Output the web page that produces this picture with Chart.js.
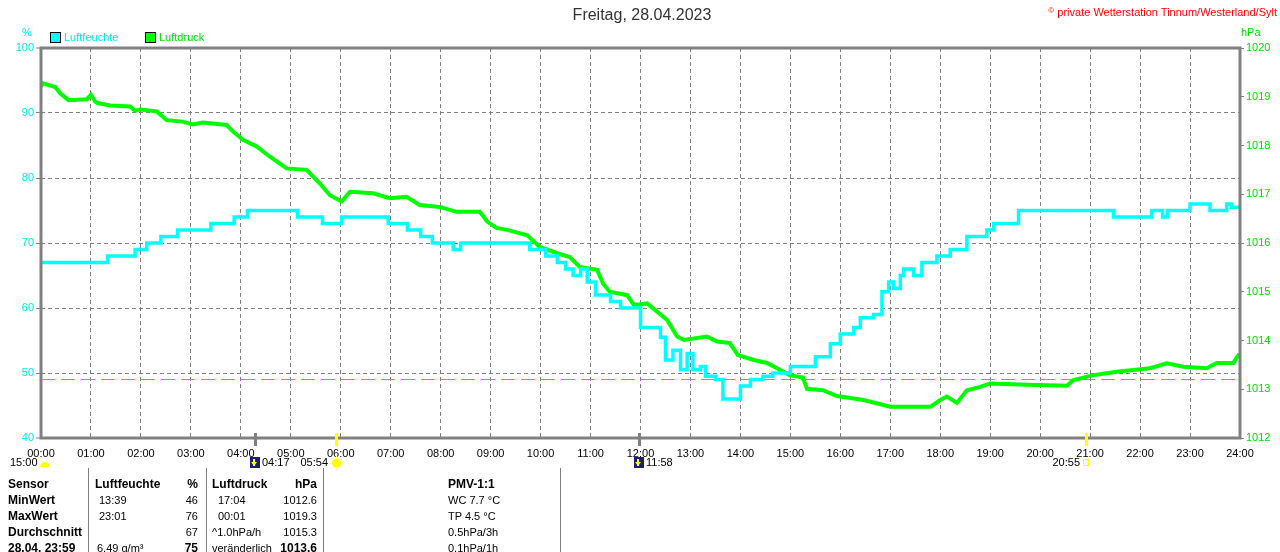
<!DOCTYPE html>
<html>
<head>
<meta charset="utf-8">
<script src="https://cdn.jsdelivr.net/npm/chart.js@4.4.1/dist/chart.umd.min.js"></script>
<style>
    body { margin: 0; background: #fff; font-family: "Liberation Sans", Arial, sans-serif; }
    #wrap { position: relative; width: 1280px; height: 552px; overflow: hidden; }
    canvas { position: absolute; left: 0; top: 0; }
    .t { position: absolute; white-space: nowrap; font-size: 11px; line-height: 14px; color: #000; }
    .b { font-weight: bold; font-size: 12px; }
    .r { text-align: right; }
    .sep { position: absolute; top: 468px; width: 1px; height: 84px; background: #808080; }
    .box { position: absolute; width: 9px; height: 9px; border: 1px solid #000; }
</style>
</head>
<body>
<div id="wrap">
    <canvas id="myChart" width="1280" height="552"></canvas>

    <!-- header texts -->
    <div class="t" style="left:0;width:1284px;top:6px;text-align:center;font-size:16px;line-height:18px;color:#333;">Freitag, 28.04.2023</div>
    <div class="t" style="right:3px;top:4px;color:#f00;"><span style="font-size:8px;vertical-align:3px;">©</span> private Wetterstation Tinnum/Westerland/Sylt</div>
    <div class="t" style="left:22px;top:25px;color:#00e8e8;">%</div>
    <div class="t" style="left:1241px;top:25px;color:#00e000;">hPa</div>

    <!-- legend -->
    <div class="box" style="left:50px;top:32px;background:#00ffff;"></div>
    <div class="t" style="left:64px;top:30px;color:#00e8e8;">Luftfeuchte</div>
    <div class="box" style="left:145px;top:32px;background:#00ff00;"></div>
    <div class="t" style="left:159px;top:30px;color:#00e000;">Luftdruck</div>

    <!-- table -->
    <div class="sep" style="left:88px"></div>
    <div class="sep" style="left:206px"></div>
    <div class="sep" style="left:323px"></div>
    <div class="sep" style="left:560px"></div>

    <div class="t b" style="left:8px;top:477px;">Sensor</div>
    <div class="t b" style="left:95px;top:477px;">Luftfeuchte</div>
    <div class="t b r" style="right:1082px;top:477px;">%</div>
    <div class="t b" style="left:212px;top:477px;">Luftdruck</div>
    <div class="t b r" style="right:963px;top:477px;">hPa</div>
    <div class="t b" style="left:448px;top:477px;">PMV-1:1</div>

    <div class="t b" style="left:8px;top:493px;">MinWert</div>
    <div class="t" style="left:99px;top:493px;">13:39</div>
    <div class="t r" style="right:1082px;top:493px;">46</div>
    <div class="t" style="left:218px;top:493px;">17:04</div>
    <div class="t r" style="right:963px;top:493px;">1012.6</div>
    <div class="t" style="left:448px;top:493px;">WC 7.7 °C</div>

    <div class="t b" style="left:8px;top:509px;">MaxWert</div>
    <div class="t" style="left:99px;top:509px;">23:01</div>
    <div class="t r" style="right:1082px;top:509px;">76</div>
    <div class="t" style="left:218px;top:509px;">00:01</div>
    <div class="t r" style="right:963px;top:509px;">1019.3</div>
    <div class="t" style="left:448px;top:509px;">TP 4.5 °C</div>

    <div class="t b" style="left:8px;top:525px;">Durchschnitt</div>
    <div class="t r" style="right:1082px;top:525px;">67</div>
    <div class="t" style="left:212px;top:525px;">^1.0hPa/h</div>
    <div class="t r" style="right:963px;top:525px;">1015.3</div>
    <div class="t" style="left:448px;top:525px;">0.5hPa/3h</div>

    <div class="t b" style="left:8px;top:541px;">28.04. 23:59</div>
    <div class="t" style="left:97px;top:541px;">6.49 g/m³</div>
    <div class="t b r" style="right:1082px;top:541px;">75</div>
    <div class="t" style="left:212px;top:541px;">veränderlich</div>
    <div class="t b r" style="right:963px;top:541px;">1013.6</div>
    <div class="t" style="left:448px;top:541px;">0.1hPa/1h</div>
</div>

<script>
// humidity readings (time of change, %)
const humTimes = ['00:00', '01:20', '01:53', '02:07', '02:24', '02:44', '03:24', '03:52', '04:08', '05:08',
    '05:38', '06:01', '06:57', '07:20', '07:36', '07:50', '08:15', '08:24', '09:47', '10:06',
    '10:20', '10:30', '10:39', '10:48', '10:56', '11:06', '11:24', '11:36', '12:00', '12:24',
    '12:30', '12:39', '12:48', '12:56', '13:03', '13:12', '13:18', '13:30', '13:39', '13:51',
    '14:00', '14:12', '14:27', '14:39', '15:00', '15:30', '15:48', '16:00', '16:16', '16:24',
    '16:40', '16:50', '16:58', '17:04', '17:12', '17:16', '17:28', '17:38', '17:56', '18:12',
    '18:32', '18:56', '19:04', '19:34', '21:28', '22:14', '22:27', '22:33', '23:00', '23:24',
    '23:44', '23:50', '24:00'];
const humValues = [67, 68, 69, 70, 71, 72, 73, 74, 75, 74,
    73, 74, 73, 72, 71, 70, 69, 70, 69, 68,
    67, 66, 65, 66, 64, 62, 61, 60, 57, 55.5,
    52, 53.5, 50.5, 53, 50.5, 51, 49.5, 49, 46, 46,
    48, 49, 49.5, 50, 51, 52.5, 54.5, 56, 57, 58.5,
    59, 62.5, 64, 63, 65, 66, 65, 67, 68, 69,
    71, 72, 73, 75, 74, 75, 74, 75, 76, 75,
    76, 75.5, 75.5];

// air pressure readings (time, hPa)
const presTimes = ['00:00', '00:02', '00:17', '00:23', '00:33', '00:55', '01:00', '01:05', '01:08', '01:23',
    '01:47', '01:53', '01:59', '02:19', '02:31', '02:50', '03:02', '03:14', '03:43', '03:51',
    '04:03', '04:19', '04:35', '04:55', '05:19', '05:35', '05:47', '06:01', '06:11', '06:39',
    '06:59', '07:19', '07:35', '07:59', '08:19', '08:47', '08:56', '09:07', '09:20', '09:44',
    '09:59', '10:20', '10:35', '10:47', '11:08', '11:15', '11:23', '11:44', '11:52', '12:08',
    '12:20', '12:32', '12:44', '12:52', '13:20', '13:32', '13:47', '13:57', '14:16', '14:32',
    '14:44', '14:59', '15:15', '15:20', '15:39', '15:56', '16:28', '17:00', '17:48', '18:00',
    '18:08', '18:20', '18:32', '18:48', '19:00', '19:44', '20:32', '20:40', '21:04', '21:32',
    '22:12', '22:32', '22:52', '23:20', '23:32', '23:52', '23:58', '24:00'];
const presValues = [1019.2, 1019.28, 1019.2, 1019.07, 1018.93, 1018.95, 1019.04, 1018.9, 1018.87, 1018.82,
    1018.8, 1018.71, 1018.74, 1018.7, 1018.52, 1018.49, 1018.43, 1018.47, 1018.42, 1018.28,
    1018.11, 1017.98, 1017.77, 1017.53, 1017.5, 1017.22, 1016.98, 1016.85, 1017.05, 1017.02,
    1016.92, 1016.95, 1016.78, 1016.74, 1016.64, 1016.64, 1016.44, 1016.31, 1016.27, 1016.16,
    1015.92, 1015.79, 1015.71, 1015.51, 1015.45, 1015.17, 1015.0, 1014.93, 1014.73, 1014.76,
    1014.59, 1014.42, 1014.08, 1014.01, 1014.08, 1013.98, 1013.95, 1013.7, 1013.6, 1013.54,
    1013.43, 1013.29, 1013.24, 1013.01, 1012.98, 1012.86, 1012.78, 1012.64, 1012.64, 1012.78,
    1012.85, 1012.72, 1012.98, 1013.05, 1013.12, 1013.09, 1013.07, 1013.19, 1013.29, 1013.36,
    1013.43, 1013.53, 1013.46, 1013.43, 1013.54, 1013.54, 1013.7, 1013.7];

const refPressure = 1013.2;

// sun and moon events shown under the time axis
const eventTimes = ['04:17', '05:54', '11:58', '20:55'];
const eventKinds = ['moonrise', 'sunrise', 'moonset', 'sunset'];

// "HH:MM" -> hours as a number
function toHours(s) {
    const parts = s.split(':').map(Number);
    return parts[0] + parts[1] / 60;
}

const fontFamily = '"Liberation Sans", Arial, sans-serif';

// frame round the plot plus the markers and icons below the axis
const extras = {
    id: 'extras',
    afterDraw(chart) {
        const ctx = chart.ctx;
        const a = chart.chartArea;
        const x = chart.scales.x;
        ctx.save();
        ctx.strokeStyle = '#808080';
        ctx.lineWidth = 3;
        ctx.strokeRect(a.left, a.top, a.right - a.left, a.bottom - a.top);

        ctx.font = '11px ' + fontFamily;
        ctx.textBaseline = 'middle';
        ctx.fillStyle = '#000';
        ctx.textAlign = 'left';
        ctx.fillText('15:00', 10, 463);
        ctx.fillStyle = '#ffff00';
        ctx.beginPath();
        ctx.arc(45, 467, 5, Math.PI, 0);
        ctx.fill();

        eventTimes.forEach((t, i) => {
            const px = Math.round(x.getPixelForValue(toHours(t)));
            const kind = eventKinds[i];
            const isMoon = kind.startsWith('moon');
            ctx.fillStyle = isMoon ? '#808080' : '#ffff00';
            ctx.fillRect(px - 1, a.bottom - 5, 3, 13);

            ctx.fillStyle = '#000';
            if (isMoon) {
                ctx.fillStyle = '#1c1c7c';
                ctx.fillRect(px - 5, 457, 10, 11);
                ctx.fillStyle = '#ffff00';
                ctx.fillRect(px - 2, 459, 2, 7);
                ctx.beginPath();
                ctx.moveTo(px - 4, 462); ctx.lineTo(px + 2, 462); ctx.lineTo(px - 1, 466);
                ctx.fill();
                ctx.fillStyle = '#000';
                ctx.textAlign = 'left';
                ctx.fillText(t, px + 7, 463);
            } else if (kind === 'sunrise') {
                ctx.fillStyle = '#ffff00';
                ctx.beginPath();
                ctx.arc(px + 0.5, 463, 4.5, 0, Math.PI * 2);
                ctx.fill();
                ctx.strokeStyle = '#ffff60';
                ctx.lineWidth = 1;
                for (let k = 0; k < 8; k++) {
                    const ang = k * Math.PI / 4;
                    ctx.beginPath();
                    ctx.moveTo(px + 0.5 + Math.cos(ang) * 5, 463 + Math.sin(ang) * 5);
                    ctx.lineTo(px + 0.5 + Math.cos(ang) * 7, 463 + Math.sin(ang) * 7);
                    ctx.stroke();
                }
                ctx.fillStyle = '#000';
                ctx.textAlign = 'right';
                ctx.fillText(t, px - 8, 463);
            } else {
                ctx.strokeStyle = '#ffff00';
                ctx.lineWidth = 1;
                ctx.strokeRect(px - 2.5, 459.5, 5, 6);
                ctx.fillStyle = '#000';
                ctx.textAlign = 'right';
                ctx.fillText(t, px - 6, 463);
            }
        });
        ctx.restore();
    }
};

const edgeWidth = (ctx, lo, hi) => (ctx.tick && (ctx.tick.value === lo || ctx.tick.value === hi)) ? 0 : 1;

const chartCtx = document.getElementById('myChart').getContext('2d');
new Chart(chartCtx, {
    type: 'line',
    data: {
        datasets: [{
            label: 'Luftfeuchte',
            data: humTimes.map((t, i) => ({ x: toHours(t), y: humValues[i] })),
            yAxisID: 'y',
            borderColor: '#00ffff',
            borderWidth: 3.5,
            pointRadius: 0,
            stepped: true,
            fill: false
        }, {
            label: 'Luftdruck',
            data: presTimes.map((t, i) => ({ x: toHours(t), y: presValues[i] })),
            yAxisID: 'y2',
            borderColor: '#00ff00',
            borderWidth: 4,
            pointRadius: 0,
            fill: false
        }, {
            label: 'Normaldruck',
            data: [{ x: 0, y: refPressure }, { x: 24, y: refPressure }],
            yAxisID: 'y2',
            borderColor: '#33dd33',
            borderWidth: 1,
            borderDash: [14, 6],
            pointRadius: 0,
            fill: false
        }]
    },
    options: {
        responsive: false,
        animation: false,
        layout: { padding: { top: 48 } },
        plugins: {
            legend: { display: false },
            tooltip: { enabled: false }
        },
        scales: {
            x: {
                type: 'linear',
                min: 0,
                max: 24,
                ticks: {
                    stepSize: 1,
                    autoSkip: false,
                    maxRotation: 0,
                    padding: 9,
                    color: '#000',
                    font: { size: 11, family: fontFamily },
                    callback: v => String(v).padStart(2, '0') + ':00'
                },
                grid: {
                    color: '#808080',
                    drawTicks: false,
                    lineWidth: ctx => edgeWidth(ctx, 0, 24)
                },
                border: { display: false, dash: [4, 3] },
                afterFit: s => { s.height = 114; }
            },
            y: {
                position: 'left',
                min: 40,
                max: 100,
                ticks: {
                    stepSize: 10,
                    padding: 2,
                    color: '#00e8e8',
                    font: { size: 11, family: fontFamily },
                    callback: v => String(v)
                },
                grid: {
                    color: '#808080',
                    tickLength: 5,
                    tickColor: '#808080',
                    tickWidth: 1,
                    lineWidth: ctx => edgeWidth(ctx, 40, 100)
                },
                border: { display: false, dash: [4, 3] },
                afterFit: s => { s.width = 41; }
            },
            y2: {
                position: 'right',
                min: 1012,
                max: 1020,
                ticks: {
                    stepSize: 1,
                    padding: 2,
                    color: '#00e000',
                    font: { size: 11, family: fontFamily },
                    callback: v => String(v)
                },
                grid: {
                    drawOnChartArea: false,
                    tickLength: 4,
                    tickColor: '#808080',
                    tickWidth: 1
                },
                border: { display: false },
                afterFit: s => { s.width = 40; }
            }
        }
    },
    plugins: [extras]
});
</script>
</body>
</html>
